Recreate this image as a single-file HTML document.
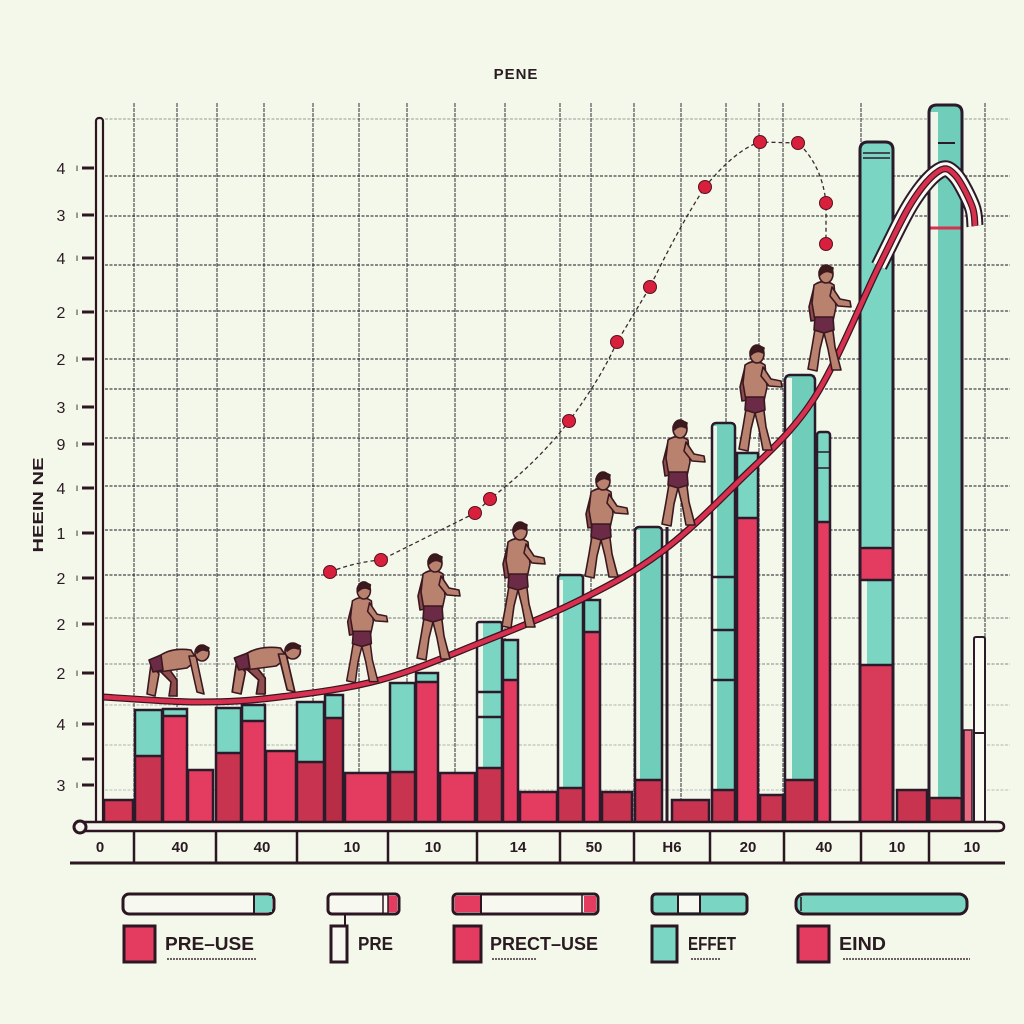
<!DOCTYPE html>
<html><head><meta charset="utf-8"><style>
html,body{margin:0;padding:0;background:#f3f8ea;}
svg{display:block;font-family:"Liberation Sans",sans-serif;}
</style></head><body>
<svg width="1024" height="1024" viewBox="0 0 1024 1024" xmlns="http://www.w3.org/2000/svg">
<defs>
<g id="walker" stroke="#3b1820" stroke-width="1.6" stroke-linejoin="round">
 <path d="M14,60 L10,84 L6,106 L15,108 L18,86 L22,70 L26,86 L30,107 L39,107 L33,84 L30,60 Z" fill="#b9826f"/>
 <path d="M12,24 L7,44 L9,58 L14,57 L15,40 Z" fill="#8e4e4e"/>
 <path d="M12,22 Q22,15 32,22 L34,44 L31,58 L13,58 L10,40 Z" fill="#b9826f"/>
 <path d="M13,54 L31,54 L32,67 L22,70 L12,67 Z" fill="#6b2a45"/>
 <path d="M30,24 L38,36 L48,38 L49,44 L36,43 L28,33 Z" fill="#b9826f"/>
 <ellipse cx="24" cy="11" rx="7" ry="9" fill="#b9826f"/>
 <path d="M17,9 Q21,0 31,5 L30,10 Q24,6 18,12 Z" fill="#3a1a1a"/>
</g>
<g id="crouch" stroke="#3b1820" stroke-width="1.6" stroke-linejoin="round">
 <path d="M6,22 L2,52 L10,54 L14,32 Z" fill="#b9826f"/>
 <path d="M14,28 L26,40 L24,54 L32,54 L32,38 L22,24 Z" fill="#8e4e4e"/>
 <path d="M6,22 Q20,4 46,8 L52,18 L42,26 L14,30 Z" fill="#b9826f"/>
 <path d="M4,18 L16,13 L18,28 L8,30 Z" fill="#6b2a45"/>
 <path d="M44,14 L52,50 L59,52 L51,14 Z" fill="#b9826f"/>
 <ellipse cx="57" cy="11" rx="7" ry="8" fill="#b9826f"/>
 <path d="M51,8 Q56,1 64,6 L62,9 Q57,6 52,11 Z" fill="#3a1a1a"/>
</g>
</defs>

<rect width="1024" height="1024" fill="#f3f8ea"/>

<!-- title -->
<text x="516" y="79" font-size="15" font-weight="bold" text-anchor="middle" fill="#2a1a22" letter-spacing="1">PENE</text>

<!-- grid -->
<g stroke="#2a2530" stroke-width="1.2" stroke-dasharray="3,1.5" opacity="0.85">
 <line x1="105" y1="119" x2="1010" y2="119" opacity="0.4"/>
 <line x1="105" y1="176" x2="1010" y2="176"/>
 <line x1="105" y1="216" x2="1010" y2="216"/>
 <line x1="105" y1="265" x2="1010" y2="265"/>
 <line x1="105" y1="311" x2="1010" y2="311"/>
 <line x1="105" y1="359" x2="1010" y2="359"/>
 <line x1="105" y1="389" x2="1010" y2="389"/>
 <line x1="105" y1="438" x2="1010" y2="438"/>
 <line x1="105" y1="486" x2="1010" y2="486"/>
 <line x1="105" y1="530" x2="1010" y2="530"/>
 <line x1="105" y1="575" x2="1010" y2="575"/>
 <line x1="105" y1="618" x2="1010" y2="618" opacity="0.6"/>
 <line x1="105" y1="664" x2="1010" y2="664" opacity="0.5"/>
 <line x1="105" y1="705" x2="1010" y2="705" opacity="0.3"/>
 <line x1="105" y1="745" x2="1010" y2="745" opacity="0.3"/>
 <line x1="105" y1="790" x2="1010" y2="790" opacity="0.25"/>
</g>
<g stroke="#2a2530" stroke-width="1.2" stroke-dasharray="4,1" opacity="0.8">
 <line x1="134" y1="103" x2="134" y2="822"/>
 <line x1="177" y1="103" x2="177" y2="822"/>
 <line x1="217" y1="103" x2="217" y2="822"/>
 <line x1="264" y1="103" x2="264" y2="822"/>
 <line x1="313" y1="103" x2="313" y2="822"/>
 <line x1="359" y1="103" x2="359" y2="822"/>
 <line x1="407" y1="103" x2="407" y2="822"/>
 <line x1="455" y1="103" x2="455" y2="822"/>
 <line x1="505" y1="103" x2="505" y2="822"/>
 <line x1="560" y1="103" x2="560" y2="822"/>
 <line x1="591" y1="103" x2="591" y2="822"/>
 <line x1="634" y1="103" x2="634" y2="822"/>
 <line x1="681" y1="103" x2="681" y2="822"/>
 <line x1="726" y1="103" x2="726" y2="822"/>
 <line x1="759" y1="103" x2="759" y2="822"/>
 <line x1="783" y1="103" x2="783" y2="822"/>
 <line x1="861" y1="103" x2="861" y2="822"/>
 <line x1="985" y1="103" x2="985" y2="822"/>
</g>

<!-- bars -->
<g stroke="none">
 <rect x="104" y="800" width="29" height="27" fill="#d23652"/>
 <rect x="135" y="710" width="27" height="46" fill="#7ad6c3"/><rect x="135" y="756" width="27" height="71" fill="#c8334f"/>
 <rect x="163" y="709" width="24" height="7" fill="#7ad6c3"/><rect x="163" y="716" width="24" height="111" fill="#e43c60"/>
 <rect x="188" y="770" width="25" height="57" fill="#e43c60"/>
 <rect x="216" y="708" width="25" height="45" fill="#7ad6c3"/><rect x="216" y="753" width="25" height="74" fill="#c8334f"/>
 <rect x="242" y="705" width="23" height="16" fill="#7ad6c3"/><rect x="242" y="721" width="23" height="106" fill="#e43c60"/>
 <rect x="266" y="751" width="30" height="76" fill="#e43c60"/>
 <rect x="297" y="702" width="27" height="60" fill="#7ad6c3"/><rect x="297" y="762" width="27" height="65" fill="#c8334f"/>
 <rect x="325" y="695" width="18" height="23" fill="#7ad6c3"/><rect x="325" y="718" width="18" height="109" fill="#b82c45"/>
 <rect x="345" y="773" width="43" height="54" fill="#e43c60"/>
 <rect x="390" y="683" width="25" height="89" fill="#7ad6c3"/><rect x="390" y="772" width="25" height="55" fill="#c8334f"/>
 <rect x="416" y="673" width="22" height="9" fill="#7ad6c3"/><rect x="416" y="682" width="22" height="145" fill="#e43c60"/>
 <rect x="440" y="773" width="35" height="54" fill="#e43c60"/>
 <rect x="477" y="622" width="25" height="146" fill="#7ad6c3"/><rect x="477" y="622" width="6" height="146" fill="#eef6ea"/><rect x="477" y="768" width="25" height="59" fill="#c8334f"/>
 <rect x="503" y="640" width="15" height="40" fill="#7ad6c3"/><rect x="503" y="680" width="15" height="147" fill="#e43c60"/>
 <rect x="520" y="792" width="37" height="35" fill="#e43c60"/>
 <rect x="558" y="575" width="25" height="213" fill="#7ad6c3"/><rect x="558" y="580" width="5" height="208" fill="#eef6ea"/><rect x="558" y="788" width="25" height="39" fill="#c8334f"/>
 <rect x="584" y="600" width="16" height="32" fill="#7ad6c3"/><rect x="584" y="632" width="16" height="195" fill="#e43c60"/>
 <rect x="602" y="792" width="30" height="35" fill="#c8334f"/>
 <rect x="635" y="527" width="27" height="253" fill="#6fcdb9"/><rect x="635" y="530" width="5" height="250" fill="#eef6ea"/><rect x="635" y="780" width="27" height="47" fill="#c8334f"/>
 <rect x="672" y="800" width="37" height="27" fill="#c8334f"/>
 <rect x="712" y="423" width="23" height="367" fill="#72cfbc"/><rect x="712" y="426" width="5" height="364" fill="#eef6ea"/><rect x="712" y="790" width="23" height="37" fill="#c8334f"/>
 <rect x="737" y="453" width="21" height="65" fill="#7ad6c3"/><rect x="737" y="518" width="21" height="309" fill="#e43c60"/>
 <rect x="760" y="795" width="23" height="32" fill="#c8334f"/>
 <rect x="785" y="375" width="30" height="405" fill="#6fcdb9"/><rect x="785" y="378" width="7" height="402" fill="#eef6ea"/><rect x="785" y="780" width="30" height="47" fill="#c8334f"/>
 <rect x="817" y="432" width="13" height="90" fill="#7ad6c3"/><rect x="817" y="522" width="13" height="305" fill="#e43c60"/>
 <rect x="860" y="142" width="33" height="406" rx="7" fill="#7ad6c3"/><rect x="860" y="580" width="7" height="85" fill="#eef6ea"/><rect x="867" y="580" width="26" height="85" fill="#7ad6c3"/><rect x="860" y="548" width="33" height="32" fill="#e43c60"/><rect x="860" y="665" width="33" height="162" fill="#d83a5a"/>
 <rect x="897" y="790" width="30" height="37" fill="#c8334f"/>
 <rect x="929" y="105" width="33" height="693" rx="7" fill="#6fcdb9"/><rect x="929" y="112" width="9" height="686" fill="#eef6ea"/><rect x="929" y="798" width="33" height="29" fill="#c8334f"/>
 <rect x="964" y="730" width="8" height="97" fill="#e86a80"/>
 <rect x="974" y="637" width="11" height="190" fill="#fafcf4"/>
</g>
<g stroke="#2a1a2a" stroke-width="2.5" fill="none">
 <line x1="477" y1="692" x2="502" y2="692"/><line x1="477" y1="717" x2="502" y2="717"/>
 <line x1="712" y1="577" x2="735" y2="577"/><line x1="712" y1="630" x2="735" y2="630"/><line x1="712" y1="680" x2="735" y2="680"/>
 <line x1="860" y1="548" x2="893" y2="548"/><line x1="860" y1="580" x2="893" y2="580"/><line x1="860" y1="665" x2="893" y2="665"/>
 <line x1="863" y1="153" x2="890" y2="153" stroke-width="1.5"/><line x1="863" y1="158" x2="890" y2="158" stroke-width="1.5"/>
 <line x1="938" y1="143" x2="955" y2="143" stroke-width="2"/>
 <line x1="929" y1="228" x2="962" y2="228" stroke="#d8304f" stroke-width="3"/>
 <line x1="974" y1="733" x2="985" y2="733" stroke-width="2"/>
 <line x1="817" y1="452" x2="830" y2="452" stroke-width="1.5"/><line x1="817" y1="468" x2="830" y2="468" stroke-width="1.5"/>
 <line x1="135" y1="756" x2="162" y2="756"/><line x1="163" y1="716" x2="187" y2="716"/><line x1="216" y1="753" x2="241" y2="753"/>
 <line x1="242" y1="721" x2="265" y2="721"/><line x1="297" y1="762" x2="324" y2="762"/><line x1="325" y1="718" x2="343" y2="718"/>
 <line x1="390" y1="772" x2="415" y2="772"/><line x1="416" y1="682" x2="438" y2="682"/><line x1="477" y1="768" x2="502" y2="768"/>
 <line x1="503" y1="680" x2="518" y2="680"/><line x1="558" y1="788" x2="583" y2="788"/><line x1="584" y1="632" x2="600" y2="632"/>
 <line x1="635" y1="780" x2="662" y2="780"/><line x1="712" y1="790" x2="735" y2="790"/><line x1="737" y1="518" x2="758" y2="518"/>
 <line x1="785" y1="780" x2="815" y2="780"/><line x1="817" y1="522" x2="830" y2="522"/><line x1="929" y1="798" x2="962" y2="798"/>
 <rect x="104" y="800" width="29" height="27"/>
 <rect x="135" y="710" width="27" height="117"/>
 <rect x="163" y="709" width="24" height="118"/>
 <rect x="188" y="770" width="25" height="57"/>
 <rect x="216" y="708" width="25" height="119"/>
 <rect x="242" y="705" width="23" height="122"/>
 <rect x="266" y="751" width="30" height="76"/>
 <rect x="297" y="702" width="27" height="125"/>
 <rect x="325" y="695" width="18" height="132"/>
 <rect x="345" y="773" width="43" height="54"/>
 <rect x="390" y="683" width="25" height="144"/>
 <rect x="416" y="673" width="22" height="154"/>
 <rect x="440" y="773" width="35" height="54"/>
 <rect x="477" y="622" width="25" height="205" rx="2"/>
 <rect x="503" y="640" width="15" height="187"/>
 <rect x="520" y="792" width="37" height="35"/>
 <rect x="558" y="575" width="25" height="252" rx="3"/>
 <rect x="584" y="600" width="16" height="227"/>
 <rect x="602" y="792" width="30" height="35"/>
 <rect x="635" y="527" width="27" height="300" rx="4"/>
 <line x1="667" y1="527" x2="667" y2="827" stroke-width="3"/>
 <rect x="672" y="800" width="37" height="27"/>
 <rect x="712" y="423" width="23" height="404" rx="4"/>
 <rect x="737" y="453" width="21" height="374"/>
 <rect x="760" y="795" width="23" height="32"/>
 <rect x="785" y="375" width="30" height="452" rx="5"/>
 <rect x="817" y="432" width="13" height="395" rx="3"/>
 <path d="M860,827 L860,150 Q860,142 868,142 L885,142 Q893,142 893,150 L893,827" stroke-width="3"/>
 <rect x="897" y="790" width="30" height="37"/>
 <path d="M929,827 L929,113 Q929,105 937,105 L954,105 Q962,105 962,113 L962,827" stroke-width="3"/>
 <rect x="964" y="730" width="8" height="97" stroke-width="1.5"/>
 <path d="M974,827 L974,639 Q974,637 976,637 L983,637 Q985,637 985,639 L985,827" stroke-width="2"/>
</g>

<!-- dashed dot path -->
<path d="M330,572 Q355,562 381,560 L475,513 L490,499 Q540,460 569,421 Q600,380 617,342 L650,287 Q680,225 705,187 Q735,150 760,142 L798,143 Q822,165 826,203 L826,244" fill="none" stroke="#3a2a30" stroke-width="1.3" stroke-dasharray="4,3"/>
<g fill="#d8203c" stroke="#5a1020" stroke-width="1">
 <circle cx="330" cy="572" r="6.5"/><circle cx="381" cy="560" r="6.5"/><circle cx="475" cy="513" r="6.5"/><circle cx="490" cy="499" r="6.5"/>
 <circle cx="569" cy="421" r="6.5"/><circle cx="617" cy="342" r="6.5"/><circle cx="650" cy="287" r="6.5"/><circle cx="705" cy="187" r="6.5"/>
 <circle cx="760" cy="142" r="6.5"/><circle cx="798" cy="143" r="6.5"/><circle cx="826" cy="203" r="6.5"/><circle cx="826" cy="244" r="6.5"/>
</g>

<!-- curve -->
<path d="M879,266 C895.5,233 902,217.8 912,202 C922,186.2 931.8,175.5 939,171 C946.2,166.5 949.5,169.2 955,175 C960.5,180.8 968.7,197.5 972,206 C975.3,214.5 974.5,222.7 975,226" fill="none" stroke="#2a1a2a" stroke-width="17" stroke-linecap="butt"/>
<path d="M879,266 C895.5,233 902,217.8 912,202 C922,186.2 931.8,175.5 939,171 C946.2,166.5 949.5,169.2 955,175 C960.5,180.8 968.7,197.5 972,206 C975.3,214.5 974.5,222.7 975,226" fill="none" stroke="#fbfbf4" stroke-width="13" stroke-linecap="butt"/>
<path d="M103,697 C119,698 170.5,702 200,702 C229.5,702 250,700.7 280,697 C310,693.3 346.7,689 380,680 C413.3,671 446.7,656.3 480,643 C513.3,629.7 550,615 580,600 C610,585 633.8,572.5 660,553 C686.2,533.5 711.5,508.5 737,483 C762.5,457.5 789.3,436.2 813,400 C836.7,363.8 862.5,299 879,266 C895.5,233 902,217.8 912,202 C922,186.2 931.8,175.5 939,171 C946.2,166.5 949.5,169.2 955,175 C960.5,180.8 968.7,197.5 972,206 C975.3,214.5 974.5,222.7 975,226" fill="none" stroke="#3a1422" stroke-width="7"/>
<path d="M103,697 C119,698 170.5,702 200,702 C229.5,702 250,700.7 280,697 C310,693.3 346.7,689 380,680 C413.3,671 446.7,656.3 480,643 C513.3,629.7 550,615 580,600 C610,585 633.8,572.5 660,553 C686.2,533.5 711.5,508.5 737,483 C762.5,457.5 789.3,436.2 813,400 C836.7,363.8 862.5,299 879,266 C895.5,233 902,217.8 912,202 C922,186.2 931.8,175.5 939,171 C946.2,166.5 949.5,169.2 955,175 C960.5,180.8 968.7,197.5 972,206 C975.3,214.5 974.5,222.7 975,226" fill="none" stroke="#d8304f" stroke-width="4.5"/>

<!-- figures -->
<use href="#crouch" transform="translate(145,642)"/>
<use href="#crouch" transform="translate(230,640) scale(1.1,1)"/>
<use href="#walker" transform="translate(341,580) scale(0.95)"/>
<use href="#walker" transform="translate(411,552)"/>
<use href="#walker" transform="translate(496,520)"/>
<use href="#walker" transform="translate(579,470)"/>
<use href="#walker" transform="translate(656,418)"/>
<use href="#walker" transform="translate(733,343)"/>
<use href="#walker" transform="translate(802,263)"/>

<!-- y axis -->
<rect x="96" y="118" width="7" height="712" rx="3" fill="#f4f4ea" stroke="#2b1622" stroke-width="2.2"/>
<g stroke="#2b1622" stroke-width="3">
 <line x1="82" y1="168" x2="94" y2="168"/><line x1="82" y1="215" x2="94" y2="215"/><line x1="82" y1="258" x2="94" y2="258"/>
 <line x1="82" y1="312" x2="94" y2="312"/><line x1="82" y1="359" x2="94" y2="359"/><line x1="82" y1="407" x2="94" y2="407"/>
 <line x1="82" y1="444" x2="94" y2="444"/><line x1="82" y1="488" x2="94" y2="488"/><line x1="82" y1="533" x2="94" y2="533"/>
 <line x1="82" y1="578" x2="94" y2="578"/><line x1="82" y1="624" x2="94" y2="624"/><line x1="82" y1="673" x2="94" y2="673"/>
 <line x1="82" y1="724" x2="94" y2="724"/><line x1="82" y1="759" x2="94" y2="759"/><line x1="82" y1="785" x2="94" y2="785"/>
</g>
<g font-size="16" fill="#2a1a22" text-anchor="middle">
 <text x="61" y="174">4</text><text x="61" y="221">3</text><text x="61" y="264">4</text>
 <text x="61" y="318">2</text><text x="61" y="365">2</text><text x="61" y="413">3</text>
 <text x="61" y="450">9</text><text x="61" y="494">4</text><text x="61" y="539">1</text>
 <text x="61" y="584">2</text><text x="61" y="630">2</text><text x="61" y="679">2</text>
 <text x="61" y="730">4</text><text x="61" y="791">3</text>
</g>
<g font-size="10" fill="#2a1a22" text-anchor="middle">
 <text x="77" y="171">ı</text><text x="77" y="218">ı</text><text x="77" y="261">ı</text><text x="77" y="315">ı</text>
 <text x="77" y="362">ı</text><text x="77" y="410">ı</text><text x="77" y="447">ı</text><text x="77" y="491">ı</text>
 <text x="77" y="536">ı</text><text x="77" y="581">ı</text><text x="77" y="627">ı</text><text x="77" y="676">ı</text>
 <text x="77" y="727">ı</text><text x="77" y="788">ı</text>
</g>
<text transform="translate(43,505) rotate(-90)" font-size="15" font-weight="bold" fill="#2a1a22" text-anchor="middle" textLength="95" lengthAdjust="spacingAndGlyphs">HEEIN NE</text>

<!-- x axis -->
<path d="M80,822 L998,822 Q1004,822 1004,826.5 Q1004,831 998,831 L80,831 Z" fill="#f6f6ee" stroke="#2b1622" stroke-width="2.5"/>
<circle cx="80" cy="827" r="6" fill="#f6f6ee" stroke="#2b1622" stroke-width="3"/>
<line x1="70" y1="863" x2="1005" y2="863" stroke="#2b1622" stroke-width="3"/>
<g stroke="#2b1622" stroke-width="2.5">
 <line x1="134" y1="831" x2="134" y2="863"/><line x1="216" y1="831" x2="216" y2="863"/><line x1="297" y1="831" x2="297" y2="863"/>
 <line x1="388" y1="831" x2="388" y2="863"/><line x1="477" y1="831" x2="477" y2="863"/><line x1="560" y1="831" x2="560" y2="863"/>
 <line x1="634" y1="831" x2="634" y2="863"/><line x1="710" y1="831" x2="710" y2="863"/><line x1="784" y1="831" x2="784" y2="863"/>
 <line x1="861" y1="831" x2="861" y2="863"/><line x1="929" y1="831" x2="929" y2="863"/>
</g>
<g font-size="15" font-weight="bold" fill="#2a1a22" text-anchor="middle">
 <text x="100" y="852">0</text><text x="180" y="852">40</text><text x="262" y="852">40</text>
 <text x="352" y="852">10</text><text x="433" y="852">10</text><text x="518" y="852">14</text>
 <text x="594" y="852">50</text><text x="672" y="852">H6</text><text x="748" y="852">20</text>
 <text x="824" y="852">40</text><text x="897" y="852">10</text><text x="972" y="852">10</text>
</g>

<!-- legend pills -->
<g stroke="#2b1622" stroke-width="3">
 <rect x="123" y="894" width="151" height="20" rx="6" fill="#f7f8ef"/>
 <rect x="254" y="896" width="18" height="16" fill="#7ad6c3" stroke="none"/>
 <line x1="254" y1="895" x2="254" y2="913" stroke-width="2"/>
 <rect x="328" y="894" width="71" height="20" rx="4" fill="#f7f8ef"/>
 <rect x="388" y="896" width="9" height="16" fill="#e43c60" stroke="none"/>
 <line x1="383" y1="895" x2="383" y2="913" stroke-width="1.5"/><line x1="388" y1="895" x2="388" y2="913" stroke-width="1.5"/>
 <line x1="345" y1="914" x2="345" y2="928" stroke-width="2"/>
 <rect x="453" y="894" width="145" height="20" rx="4" fill="#f7f8ef"/>
 <rect x="455" y="896" width="25" height="16" fill="#e43c60" stroke="none"/>
 <rect x="584" y="896" width="12" height="16" fill="#e43c60" stroke="none"/>
 <line x1="481" y1="895" x2="481" y2="913" stroke-width="2"/><line x1="582" y1="895" x2="582" y2="913" stroke-width="1.5"/>
 <rect x="652" y="894" width="95" height="20" rx="4" fill="#7ad6c3"/>
 <rect x="678" y="896" width="22" height="16" fill="#f7f8ef" stroke="none"/>
 <line x1="678" y1="895" x2="678" y2="913" stroke-width="2"/><line x1="700" y1="895" x2="700" y2="913" stroke-width="2"/>
 <rect x="796" y="894" width="171" height="20" rx="8" fill="#7ad6c3"/>
 <line x1="801" y1="897" x2="801" y2="911" stroke-width="1.5"/>
</g>
<g stroke="#2b1622" stroke-width="3">
 <rect x="124" y="926" width="31" height="36" fill="#e43c60"/>
 <rect x="331" y="926" width="16" height="36" fill="#f7f8ef"/>
 <rect x="454" y="926" width="27" height="36" fill="#e43c60"/>
 <rect x="652" y="926" width="25" height="36" fill="#7ad6c3"/>
 <rect x="798" y="926" width="31" height="36" fill="#e43c60"/>
</g>
<g font-size="18" font-weight="bold" fill="#2a1a22">
 <text x="165" y="950" textLength="89" lengthAdjust="spacingAndGlyphs">PRE–USE</text>
 <text x="358" y="950" textLength="35" lengthAdjust="spacingAndGlyphs">PRE</text>
 <text x="490" y="950" textLength="108" lengthAdjust="spacingAndGlyphs">PRECT–USE</text>
 <text x="688" y="950" textLength="48" lengthAdjust="spacingAndGlyphs">EFFET</text>
 <text x="839" y="950" textLength="47" lengthAdjust="spacingAndGlyphs">EIND</text>
</g>
<g stroke="#4a3a40" stroke-width="2" stroke-dasharray="2,1" opacity="0.8">
 <line x1="167" y1="959" x2="256" y2="959"/>
 <line x1="492" y1="959" x2="536" y2="959"/>
 <line x1="691" y1="959" x2="720" y2="959"/>
 <line x1="843" y1="959" x2="970" y2="959"/>
</g>
</svg>
</body></html>
